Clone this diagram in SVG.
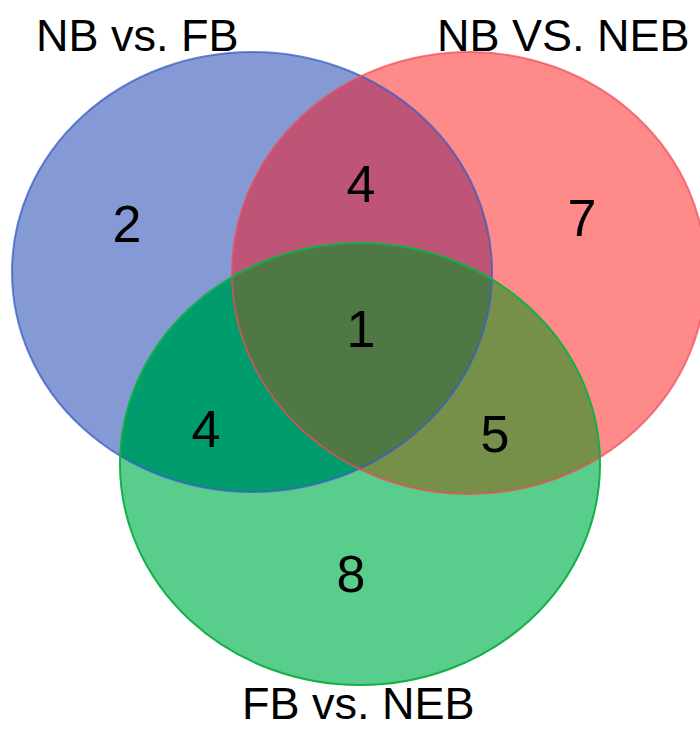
<svg xmlns="http://www.w3.org/2000/svg" width="700" height="729" viewBox="0 0 700 729">
  <style>
    .lbl { font-family: "Liberation Sans", Arial, sans-serif; font-size: 45px; fill: #000; }
    .num { font-family: "Liberation Sans", Arial, sans-serif; font-size: 52px; fill: #000; text-anchor: middle; }
    .edge { fill: none; stroke-width: 2; }
  </style>
  <defs>
    <clipPath id="clipB"><ellipse cx="252" cy="272" rx="240" ry="220"/></clipPath>
    <clipPath id="clipR"><ellipse cx="469" cy="273" rx="237" ry="221"/></clipPath>
  </defs>
  <rect width="700" height="729" fill="#ffffff"/>
  <g id="regions">
    <ellipse cx="252" cy="272" rx="240" ry="220" fill="#8599D4"/>
    <ellipse cx="469" cy="273" rx="237" ry="221" fill="#FF8A8A"/>
    <ellipse cx="360" cy="464" rx="240" ry="221" fill="#59CD8C"/>
    <ellipse cx="469" cy="273" rx="237" ry="221" fill="#BE5577" clip-path="url(#clipB)"/>
    <ellipse cx="360" cy="464" rx="240" ry="221" fill="#009C6E" clip-path="url(#clipB)"/>
    <ellipse cx="360" cy="464" rx="240" ry="221" fill="#76904A" clip-path="url(#clipR)"/>
    <g clip-path="url(#clipR)">
      <ellipse cx="360" cy="464" rx="240" ry="221" fill="#4F7845" clip-path="url(#clipB)"/>
    </g>
  </g>
  <g id="set-nb-fb">
    <ellipse class="edge" cx="252" cy="272" rx="240" ry="220" stroke="#3A5EC4" stroke-opacity="0.75"/>
    <text class="lbl" x="36" y="51">NB vs. FB</text>
  </g>
  <g id="set-nb-neb">
    <ellipse class="edge" cx="469" cy="273" rx="237" ry="221" stroke="#F04A55" stroke-opacity="0.7"/>
    <text class="lbl" x="437" y="51">NB VS. NEB</text>
  </g>
  <g id="set-fb-neb">
    <ellipse class="edge" cx="360" cy="464" rx="240" ry="221" stroke="#12B048"/>
    <text class="lbl" x="242" y="719">FB vs. NEB</text>
  </g>
  <g id="counts">
    <text class="num" x="127" y="242">2</text>
    <text class="num" x="361" y="202">4</text>
    <text class="num" x="582" y="236">7</text>
    <text class="num" x="361" y="347">1</text>
    <text class="num" x="206" y="447">4</text>
    <text class="num" x="495" y="452">5</text>
    <text class="num" x="351" y="592">8</text>
  </g>
</svg>
